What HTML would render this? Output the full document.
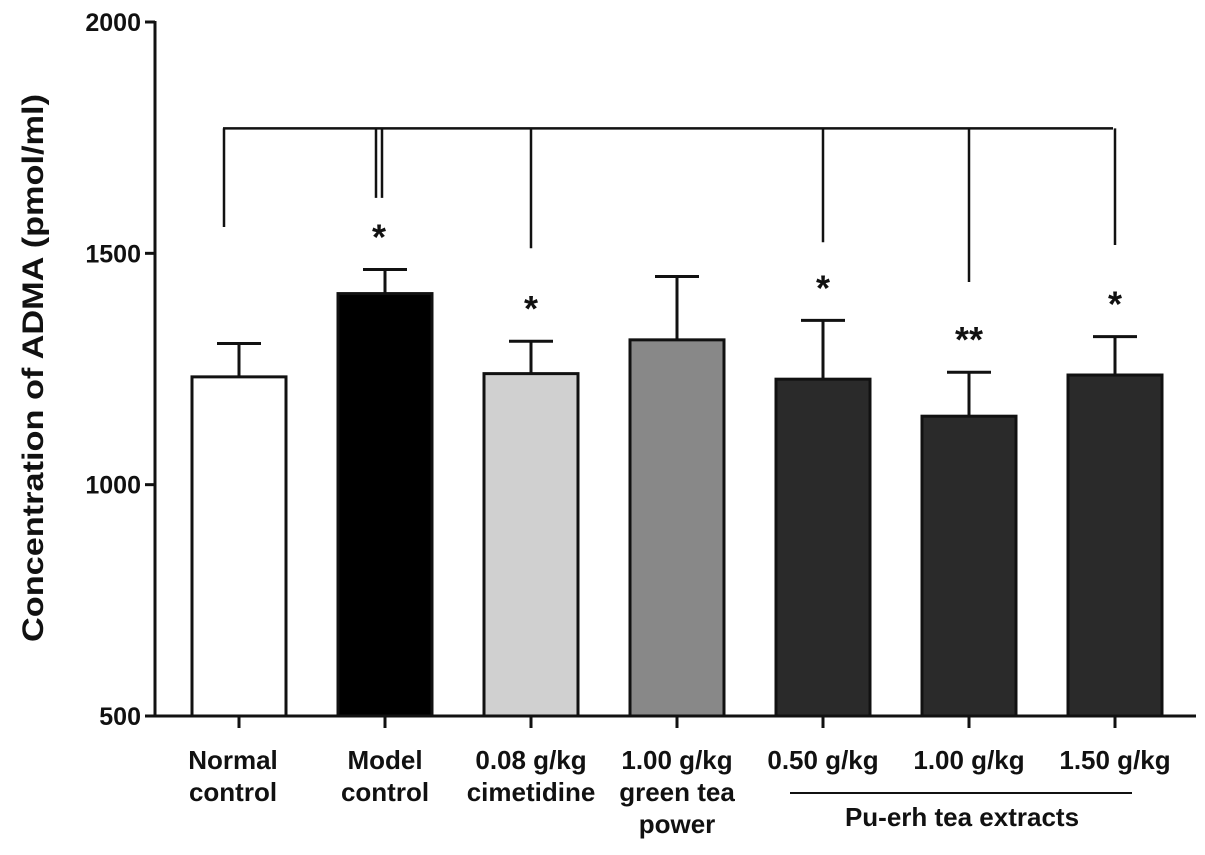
<!DOCTYPE html>
<html><head><meta charset="utf-8"><style>
html,body{margin:0;padding:0;background:#fff}
svg text{font-family:"Liberation Sans",Arial,sans-serif;fill:#111}
</style></head><body>
<svg id="chart" width="1205" height="850" xmlns="http://www.w3.org/2000/svg">
<g id="axes"></g>
<g id="bars"></g>
<g id="sig"></g>
<text transform="translate(43,368) rotate(-90)" text-anchor="middle" font-size="30" font-weight="bold" textLength="548" lengthAdjust="spacingAndGlyphs">Concentration of ADMA (pmol/ml)</text>
<line x1="790" y1="793" x2="1132" y2="793" stroke="#111" stroke-width="2"/>
<text x="962" y="826" text-anchor="middle" font-size="26" font-weight="bold" fill="#222">Pu-erh tea extracts</text>
</svg>
<script>
const categories=[["Normal","control"],["Model","control"],["0.08 g/kg","cimetidine"],["1.00 g/kg","green tea","power"],["0.50 g/kg"],["1.00 g/kg"],["1.50 g/kg"]];
const means=[1233,1413,1240,1313,1228,1148,1237];
const errors=[72,52,70,137,127,95,83];
const fills=["#ffffff","#000000","#d0d0d0","#888888","#2a2a2a","#2a2a2a","#2a2a2a"];
const yTicks=[500,1000,1500,2000];
const stars=["","*","*","","*","**","*"];
const bracketTopValue=1770;
const bracketBottoms=[1557,1620,1511,null,1524,1438,1518];
const NS="http://www.w3.org/2000/svg";
const y=v=>716-(v-500)*694/1500;
const x=i=>239+i*146;
function mk(tag,attrs,parent){const e=document.createElementNS(NS,tag);for(const k in attrs)e.setAttribute(k,attrs[k]);parent.appendChild(e);return e;}
const axes=document.getElementById('axes'),bars=document.getElementById('bars'),sig=document.getElementById('sig');
const BT=y(bracketTopValue);
let yl=mk('line',{x1:155,y1:y(2000)-1,x2:155,y2:716,stroke:'#111','stroke-width':3},axes);


let xl=mk('line',{x1:154,y1:716,x2:1196,y2:716,stroke:'#111','stroke-width':3},axes);


yTicks.forEach(t=>{
 let l=mk('line',{x1:145,y1:y(t),x2:155,y2:y(t),stroke:'#111','stroke-width':3},axes);
 
 
 let tx=mk('text',{x:141,y:y(t)+9,'text-anchor':'end','font-size':25,'font-weight':'bold'},axes);tx.textContent=t;
 
 
});
means.forEach((m,i)=>{
 const cx=x(i);
 const capY=y(m+errors[i]);
 let e=mk('line',{x1:cx,y1:y(m),x2:cx,y2:capY,stroke:'#111','stroke-width':3},bars);
 
 
 let c=mk('line',{x1:cx-22,y1:capY,x2:cx+22,y2:capY,stroke:'#111','stroke-width':3},bars);
 
 
 let r=mk('rect',{x:cx-47,y:y(m),width:94,height:716-y(m),fill:fills[i],stroke:'#111','stroke-width':3},bars);
 
 
 let tk=mk('line',{x1:cx,y1:716,x2:cx,y2:728,stroke:'#111','stroke-width':3},axes);
 
 
 categories[i].forEach((s,j)=>{let t=mk('text',{x:cx-(i===0?6:0),y:769+j*32,'text-anchor':'middle','font-size':26,'font-weight':'bold',fill:'#222'},axes);t.textContent=s;
  
  });
 if(bracketBottoms[i]!==null){
  const bx=i===0?224:cx;
  if(i===1){
   let a=mk('line',{x1:cx-9,y1:BT,x2:cx-9,y2:y(bracketBottoms[i]),stroke:'#111','stroke-width':2.5},sig);
   
   
   let b=mk('line',{x1:cx-3,y1:BT,x2:cx-3,y2:y(bracketBottoms[i]),stroke:'#111','stroke-width':2.5},sig);
   
   
  } else {
   let d=mk('line',{x1:bx,y1:BT,x2:bx,y2:y(bracketBottoms[i]),stroke:'#111','stroke-width':2.5},sig);
   
   
  }
 }
 if(stars[i]){
  const sy=capY-20;
  let s=mk('text',{x:cx-(i===1?6:0),y:sy,'text-anchor':'middle','font-size':36,'font-weight':'bold'},sig);s.textContent=stars[i];
  
  
 }
});
let bracketTop=mk('line',{x1:223,y1:BT,x2:1113,y2:BT,stroke:'#111','stroke-width':2.5},sig);


</script>
</body></html>
